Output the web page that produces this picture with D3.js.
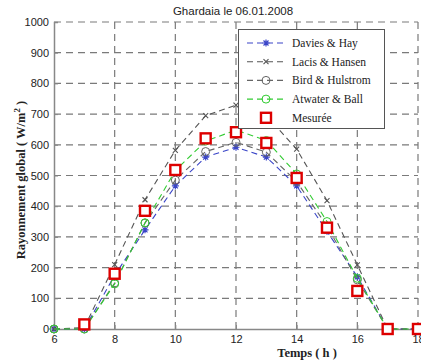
<!DOCTYPE html>
<html>
<head>
<meta charset="utf-8">
<script src="https://cdn.jsdelivr.net/npm/d3@7"></script>
<style>
  body { margin: 0; background: #fff; }
  svg { display: block; }
</style>
</head>
<body>
<svg id="chart" width="421" height="362"></svg>
<script>
'use strict';

// hours of the day
const HOURS = [6, 7, 8, 9, 10, 11, 12, 13, 14, 15, 16, 17, 18];

// global irradiance (W/m2) per model
const DAVIES_HAY   = [0, 0, 175, 323, 466, 560, 592, 560, 466, 318, 170, 0, 0];
const LACIS_HANSEN = [0, 5, 210, 421, 582, 695, 729, 695, 586, 418, 209, 0, 0];
const BIRD_HULSTROM = [0, 0, 150, 345, 485, 578, 608, 576, 480, 335, 160, 0, 0];
const ATWATER_BALL = [0, 0, 147, 346, 516, 612, 648, 614, 505, 350, 165, 0, 0];
const MEASURED     = [null, 15, 180, 385, 518, 621, 641, 606, 492, 330, 124, 0, 0];

const X_TICKS = [6, 8, 10, 12, 14, 16, 18];
const Y_TICKS = [0, 100, 200, 300, 400, 500, 600, 700, 800, 900, 1000];

const SERIES = [
  { name: 'Davies & Hay',     values: DAVIES_HAY,    color: '#3a45c8', marker: 'star' },
  { name: 'Lacis & Hansen',   values: LACIS_HANSEN,  color: '#555555', marker: 'x' },
  { name: 'Bird & Hulstrom',  values: BIRD_HULSTROM, color: '#666666', marker: 'circle' },
  { name: 'Atwater & Ball',   values: ATWATER_BALL,  color: '#33cc33', marker: 'circle' },
];

const svg = d3.select('#chart');
const margin = { left: 54, right: 3, top: 22, bottom: 33 };
const W = 421, H = 362;

const x = d3.scaleLinear().domain([6, 18]).range([margin.left, W - margin.right]);
const y = d3.scaleLinear().domain([0, 1000]).range([H - margin.bottom, margin.top]);

const grid = svg.append('g');
// vertical grid
grid.selectAll('line.v').data(X_TICKS.slice(1)).join('line')
  .attr('x1', d => x(d)).attr('x2', d => x(d))
  .attr('y1', y(0)).attr('y2', y(1000))
  .attr('stroke', '#7a7a7a').attr('stroke-width', 1.2)
  .attr('stroke-dasharray', '7 5');
// horizontal grid
grid.selectAll('line.h').data(Y_TICKS.slice(1)).join('line')
  .attr('x1', x(6)).attr('x2', x(18))
  .attr('y1', d => y(d)).attr('y2', d => y(d))
  .attr('stroke', '#7a7a7a').attr('stroke-width', 1.2)
  .attr('stroke-dasharray', '7 5');

// axes
const xAxis = svg.append('g')
  .attr('transform', `translate(0,${y(0)})`)
  .call(d3.axisBottom(x).tickValues(X_TICKS).tickSize(-4).tickPadding(6).tickFormat(d3.format('d')));
const yAxis = svg.append('g')
  .attr('transform', `translate(${x(6)},0)`)
  .call(d3.axisLeft(y).tickValues(Y_TICKS).tickSize(-4).tickPadding(5).tickFormat(d3.format('d')));

[xAxis, yAxis].forEach(a => {
  a.select('.domain').attr('stroke', '#888').attr('stroke-width', 1.5);
  a.selectAll('.tick line').attr('stroke', '#888');
  a.selectAll('.tick text')
    .attr('font-family', 'Liberation Sans, Arial, sans-serif')
    .attr('font-size', 11).attr('fill', '#222');
});

// series lines
const line = d3.line()
  .defined(d => d[1] !== null)
  .x(d => x(d[0])).y(d => y(d[1]));

function drawMarker(g, type, color) {
  if (type === 'star') {
    g.append('path').attr('d', 'M-3.5,0H3.5M0,-3.5V3.5M-2.5,-2.5L2.5,2.5M-2.5,2.5L2.5,-2.5')
      .attr('stroke', color).attr('stroke-width', 1.2).attr('fill', 'none');
  } else if (type === 'x') {
    g.append('path').attr('d', 'M-2.5,-2.5L2.5,2.5M-2.5,2.5L2.5,-2.5')
      .attr('stroke', color).attr('stroke-width', 1.1).attr('fill', 'none');
  } else if (type === 'circle') {
    g.append('circle').attr('r', 4)
      .attr('stroke', color).attr('stroke-width', 1).attr('fill', 'none');
  } else if (type === 'square') {
    g.append('rect').attr('x', -5).attr('y', -5).attr('width', 10).attr('height', 10)
      .attr('stroke', '#dd0000').attr('stroke-width', 2.4).attr('fill', '#fff');
  }
}

SERIES.forEach(s => {
  const pts = HOURS.map((h, i) => [h, s.values[i]]);
  svg.append('path').datum(pts)
    .attr('d', line)
    .attr('fill', 'none')
    .attr('stroke', s.color)
    .attr('stroke-width', 1.1)
    .attr('stroke-dasharray', '6 4');
  pts.forEach(p => {
    if (p[1] === null) return;
    drawMarker(svg.append('g').attr('transform', `translate(${x(p[0])},${y(p[1])})`), s.marker, s.color);
  });
});

// measured
HOURS.forEach((h, i) => {
  if (MEASURED[i] === null) return;
  drawMarker(svg.append('g').attr('transform', `translate(${x(h)},${y(MEASURED[i])})`), 'square');
});

// title
svg.append('text')
  .attr('x', 233).attr('y', 15)
  .attr('text-anchor', 'middle')
  .attr('font-family', 'Liberation Sans, Arial, sans-serif')
  .attr('font-size', 11.5).attr('fill', '#222')
  .text('Ghardaia le 06.01.2008');

// axis labels
svg.append('text')
  .attr('x', 307).attr('y', 357)
  .attr('text-anchor', 'middle')
  .attr('font-family', 'Liberation Serif, Times New Roman, serif')
  .attr('font-weight', 'bold').attr('font-size', 12.5).attr('fill', '#222')
  .text('Temps ( h )');

const yl = svg.append('text')
  .attr('transform', 'translate(25,180) rotate(-90)')
  .attr('text-anchor', 'middle')
  .attr('font-family', 'Liberation Serif, Times New Roman, serif')
  .attr('font-weight', 'bold').attr('font-size', 12.5).attr('fill', '#222');
yl.append('tspan').text('Rayonnement global ( W/m');
yl.append('tspan').attr('dy', -5).attr('font-size', 9).text('2');
yl.append('tspan').attr('dy', 5).text(' )');

// legend
const legend = svg.append('g');
legend.append('rect')
  .attr('x', 238.5).attr('y', 29.5).attr('width', 146).attr('height', 99)
  .attr('fill', '#fff').attr('stroke', '#555').attr('stroke-width', 1);

const LEGEND_ROWS = SERIES.concat([{ name: 'Mesurée', marker: 'square' }]);
LEGEND_ROWS.forEach((s, i) => {
  const cy = 43 + i * 18.7;
  if (s.values) {
    legend.append('line')
      .attr('x1', 247).attr('x2', 285).attr('y1', cy).attr('y2', cy)
      .attr('stroke', s.color).attr('stroke-width', 1.1)
      .attr('stroke-dasharray', '6 4');
  }
  drawMarker(legend.append('g').attr('transform', `translate(266,${cy})`), s.marker, s.color);
  legend.append('text')
    .attr('x', 292).attr('y', cy + 4)
    .attr('font-family', 'Liberation Serif, Times New Roman, serif')
    .attr('font-size', 11.5).attr('fill', '#222')
    .text(s.name);
});
</script>
</body>
</html>
